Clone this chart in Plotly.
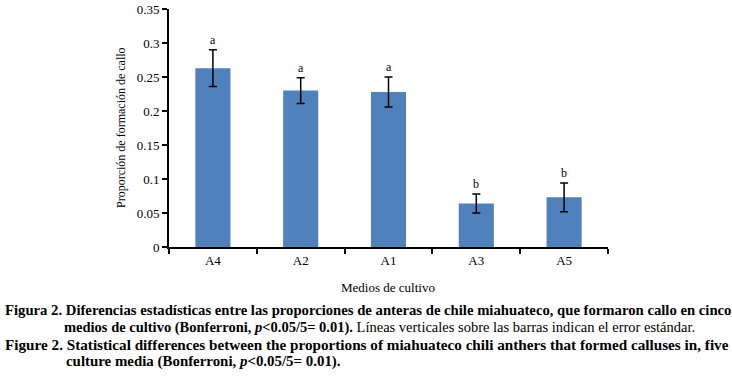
import plotly.graph_objects as go

categories = ["A4", "A2", "A1", "A3", "A5"]
values = [0.263, 0.230, 0.228, 0.064, 0.073]
errors = [0.027, 0.019, 0.022, 0.014, 0.021]
letters = ["a", "a", "a", "b", "b"]

W, H = 732, 384
L, R, T, B = 169, 124, 9, 137
pw = W - L - R
ph = H - T - B

font_family = "Liberation Serif"

fig = go.Figure()
fig.add_trace(go.Bar(
    x=categories, y=values,
    marker=dict(color="#4F81BD", line=dict(width=0)),
    error_y=dict(type="data", array=errors, visible=True, color="black", thickness=1.5, width=4),
    width=0.4,
))

for c, v, e, t in zip(categories, values, errors, letters):
    fig.add_annotation(x=c, y=v + e, text=t, showarrow=False, yanchor="bottom", yshift=1,
                       font=dict(family=font_family, size=12, color="black"))

def px_x(px):
    return (px - L) / pw

def px_y(py):
    return (H - B - py) / ph

# axis titles
fig.add_annotation(xref="paper", yref="paper", x=px_x(121), y=px_y(128),
                   text="Proporción de formación de callo", textangle=-90, showarrow=False,
                   xanchor="center", yanchor="middle",
                   font=dict(family=font_family, size=12, color="black"))
fig.add_annotation(xref="paper", yref="paper", x=px_x(388), y=px_y(287),
                   text="Medios de cultivo", showarrow=False,
                   xanchor="center", yanchor="middle",
                   font=dict(family=font_family, size=13, color="black"))

captions = [
    (3, 310, 14.7, "<b>Figura 2. Diferencias estadísticas entre las proporciones de anteras de chile miahuateco, que formaron callo en cinco</b>"),
    (62, 327, 14.5, "<b>medios de cultivo (Bonferroni, <i>p</i>&lt;0.05/5= 0.01).</b> Líneas verticales sobre las barras indican el error estándar."),
    (3, 344, 15.2, "<b>Figure 2. Statistical differences between the proportions of miahuateco chili anthers that formed calluses in, five</b>"),
    (64, 361, 14.9, "<b>culture media (Bonferroni, <i>p</i>&lt;0.05/5= 0.01).</b>"),
]
for x0, y0, fs, txt in captions:
    fig.add_annotation(xref="paper", yref="paper", x=px_x(x0), y=px_y(y0), text=txt,
                       showarrow=False, xanchor="left", yanchor="middle",
                       font=dict(family=font_family, size=fs, color="black"))

fig.update_layout(
    width=W, height=H,
    margin=dict(l=L, r=R, t=T, b=B, autoexpand=False),
    paper_bgcolor="white", plot_bgcolor="white",
    showlegend=False,
    bargap=0.6,
    font=dict(family=font_family, size=12, color="black"),
)
fig.update_xaxes(
    automargin=False,
    showline=True, linecolor="black", linewidth=2,
    ticks="outside", tickson="boundaries", ticklen=5, tickcolor="black", tickwidth=1.5,
    tickfont=dict(family=font_family, size=13),
)
fig.update_yaxes(
    automargin=False,
    range=[0, 0.35], dtick=0.05,
    showline=True, linecolor="black", linewidth=2, showgrid=False, zeroline=False,
    ticks="outside", ticklen=5, tickcolor="black", tickwidth=1.5,
    tickfont=dict(family=font_family, size=13),
)

fig.write_html("out.html", config={"displayModeBar": False},
               post_script="document.body.style.margin='0';document.body.style.padding='0';")
